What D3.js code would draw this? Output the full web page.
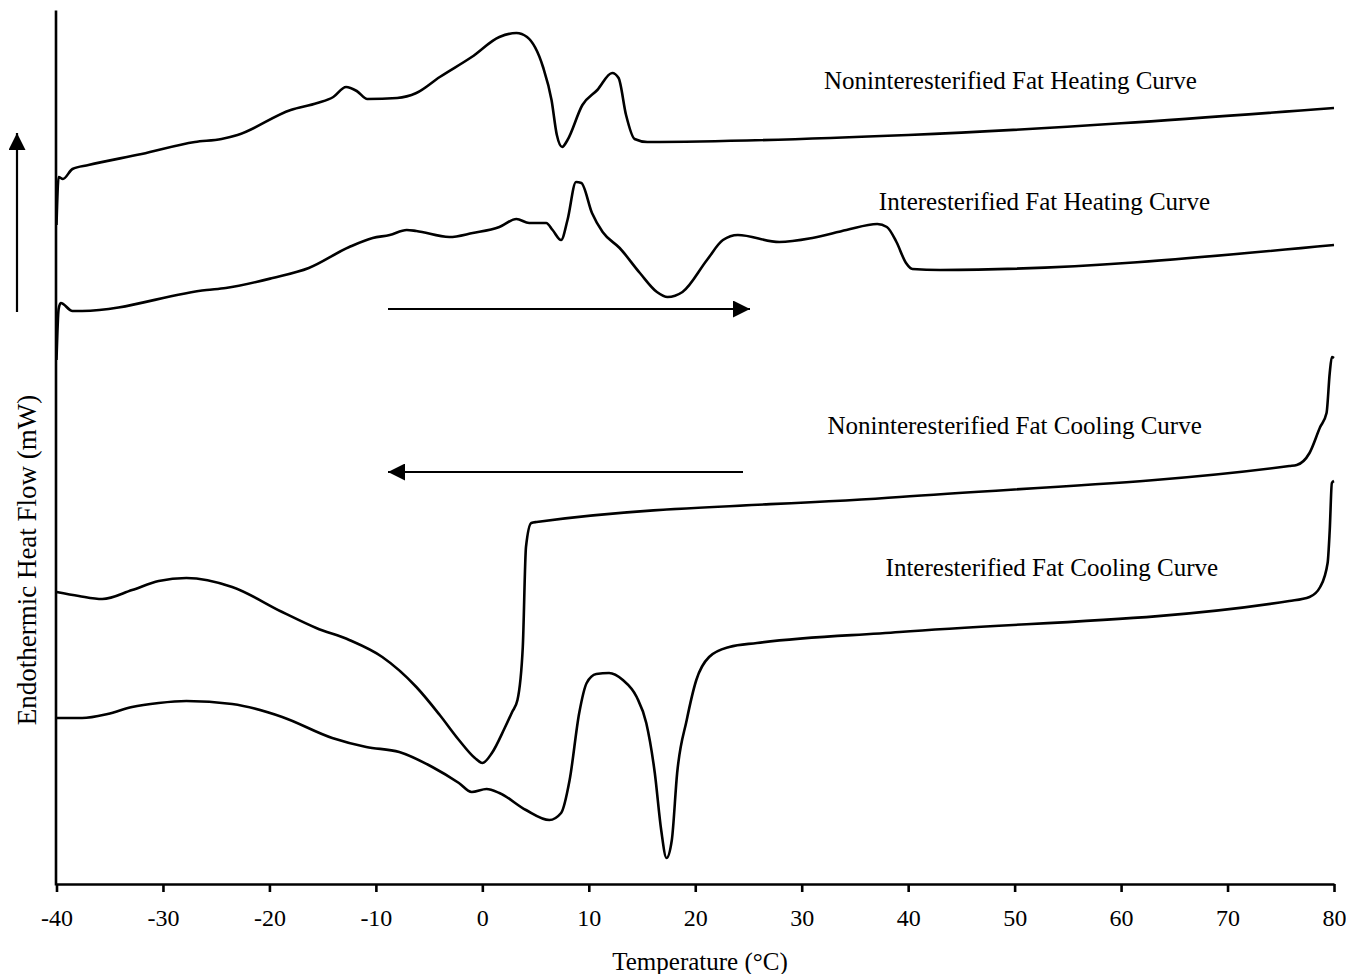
<!DOCTYPE html>
<html lang="en">
<head>
  <meta charset="UTF-8" />
  <title>DSC Heating and Cooling Curves</title>
  <script src="https://d3js.org/d3.v7.min.js"></script>
  <style>
    body {
      margin: 0;
      background: #fff;
    }
    svg {
      display: block;
      font-family: "Liberation Serif", "DejaVu Serif", serif;
    }
    path.curve {
      fill: none;
      stroke: #000;
      stroke-width: 2.6;
      stroke-linejoin: round;
    }
    .axis path, .axis line {
      stroke: #000;
      stroke-width: 2.6;
    }
    .axis text {
      font-family: "Liberation Serif", serif;
      font-size: 24px;
      fill: #000;
    }
    text.label {
      font-size: 25px;
      fill: #000;
    }
  </style>
</head>
<body>

<svg width="1346" height="974"></svg>

<script>
  // temperature (°C), heat flow (arbitrary mW, offset per curve)
  const nonHeating = [
    [-40.0, 66.0], [-39.8, 70.8], [-39.4, 70.6], [-38.5, 71.6], [-37.0, 72.0],
    [-32.0, 73.1], [-27.0, 74.3], [-24.5, 74.6], [-23.0, 75.0], [-18.0, 77.5],
    [-15.5, 78.2], [-14.0, 78.8], [-12.8, 79.8], [-11.8, 79.4], [-10.8, 78.6],
    [-8.0, 78.7], [-6.2, 79.2], [-4.0, 80.8], [-1.0, 82.8], [1.6, 84.8],
    [3.2, 85.2], [4.2, 84.8], [5.7, 81.8], [6.5, 78.5], [7.0, 75.0],
    [7.5, 73.8], [8.0, 74.5], [9.4, 78.0], [10.8, 79.5], [12.2, 81.2],
    [12.8, 80.7], [13.5, 77.0], [14.3, 74.6], [15.5, 74.3], [40.0, 75.0],
    [80.0, 77.7]
  ];

  const interHeating = [
    [-40.0, 52.5], [-39.8, 57.6], [-39.6, 58.2], [-38.5, 57.4], [-37.6, 57.4],
    [-25.9, 59.5], [-24.1, 59.7], [-19.7, 60.7], [-16.3, 61.7], [-12.5, 63.8],
    [-10.3, 64.7], [-8.7, 65.0], [-7.1, 65.5], [-6.2, 65.4], [-3.1, 64.8],
    [-0.9, 65.2], [1.6, 65.8], [3.2, 66.6], [4.4, 66.2], [6.0, 66.2],
    [6.6, 65.5], [7.4, 64.5], [8.0, 66.5], [8.8, 70.3], [9.3, 70.2],
    [10.3, 67.2], [11.3, 65.3], [12.9, 63.7], [14.8, 61.2], [16.4, 59.3],
    [17.4, 58.8], [18.8, 59.3], [21.1, 62.5], [22.6, 64.5], [24.0, 65.0],
    [27.9, 64.3], [31.0, 64.7], [34.2, 65.5], [37.1, 66.1], [38.0, 65.8],
    [38.9, 64.3], [39.8, 62.2], [40.4, 61.6], [43.0, 61.5], [80.0, 64.0]
  ];

  const nonCooling = [
    [-40.0, 29.3], [-37.9, 28.9], [-35.7, 28.6], [-32.9, 29.5], [-30.4, 30.4],
    [-27.8, 30.7], [-23.5, 29.8], [-18.8, 27.3], [-15.6, 25.7], [-12.5, 24.5],
    [-9.4, 22.8], [-6.2, 19.8], [-4.0, 17.0], [-2.2, 14.5], [-0.7, 12.7],
    [0.0, 12.2], [0.9, 13.2], [2.1, 15.7], [2.8, 17.3], [3.3, 18.5],
    [3.8, 23.8], [4.1, 33.8], [4.6, 36.2], [5.1, 36.3], [39.2, 38.8],
    [75.8, 41.9], [76.5, 42.0], [77.7, 43.2], [78.7, 45.8], [79.3, 47.2],
    [79.6, 51.2], [79.8, 52.8], [80.0, 52.7]
  ];

  const interCooling = [
    [-40.0, 16.7], [-37.6, 16.7], [-35.2, 17.1], [-32.9, 17.8], [-30.4, 18.2],
    [-27.8, 18.4], [-23.5, 18.1], [-18.8, 16.8], [-14.1, 14.7], [-10.9, 13.8],
    [-7.8, 13.3], [-4.7, 11.8], [-2.2, 10.2], [-1.0, 9.3], [0.4, 9.6],
    [1.6, 9.2], [4.1, 7.5], [6.3, 6.5], [7.4, 7.2], [8.2, 10.5],
    [9.1, 17.2], [9.8, 20.2], [10.7, 21.1], [11.9, 21.2], [13.2, 20.5],
    [14.5, 18.8], [15.4, 16.2], [16.2, 11.2], [16.8, 5.5], [17.3, 2.7],
    [17.8, 4.5], [18.3, 11.2], [19.2, 16.5], [20.1, 20.5], [21.3, 22.8],
    [23.2, 23.8], [25.8, 24.2], [39.2, 25.3], [75.8, 28.4], [77.7, 28.8],
    [78.7, 29.8], [79.4, 32.2], [79.6, 35.5], [79.8, 40.2], [80.0, 40.4]
  ];

  const curveLabels = [
    { text: "Noninteresterified Fat Heating Curve", t: 49.6, v: 80.5 },
    { text: "Interesterified Fat Heating Curve", t: 52.8, v: 68.4 },
    { text: "Noninteresterified Fat Cooling Curve", t: 50.0, v: 46.0 },
    { text: "Interesterified Fat Cooling Curve", t: 53.5, v: 31.8 }
  ];

  const xTicks = d3.range(-40, 81, 10);

  const svg = d3.select("svg");

  const x = d3.scaleLinear().domain([-40, 80]).range([56.5, 1334]);
  const y = d3.scaleLinear().domain([0, 87.5]).range([885, 10]);

  // axes
  svg.append("g")
    .attr("class", "axis")
    .attr("transform", `translate(0,${y(0) - 1})`)
    .call(d3.axisBottom(x).tickValues(xTicks).tickSize(8).tickSizeOuter(0).tickPadding(17).tickFormat(d => String(d)))
    .call(g => g.selectAll("text").attr("dy", "0.71em"));

  svg.append("g")
    .attr("class", "axis")
    .attr("transform", `translate(${x(-40) - 1},0)`)
    .call(d3.axisLeft(y).tickValues([]).tickSizeOuter(0));

  // curves
  const line = d3.line()
    .x(d => x(d[0]))
    .y(d => y(d[1]))
    .curve(d3.curveMonotoneX);

  [nonHeating, interHeating, nonCooling, interCooling].forEach(data => {
    svg.append("path")
      .attr("class", "curve")
      .attr("d", line(data));
  });

  svg.selectAll("text.label")
    .data(curveLabels)
    .enter().append("text")
    .attr("class", "label")
    .attr("x", d => x(d.t))
    .attr("y", d => y(d.v))
    .attr("dy", "0.35em")
    .attr("text-anchor", "middle")
    .text(d => d.text);

  // direction arrows
  const defs = svg.append("defs");
  defs.append("marker")
    .attr("id", "head")
    .attr("viewBox", "0 -5 10 10")
    .attr("refX", 10)
    .attr("refY", 0)
    .attr("orient", "auto")
    .attr("markerUnits", "userSpaceOnUse")
    .attr("markerWidth", 20)
    .attr("markerHeight", 17)
    .append("path")
    .attr("d", "M0,-5L10,0L0,5Z")
    .attr("fill", "#000");

  const arrows = [
    { x1: 388, y1: 309, x2: 750, y2: 309 },
    { x1: 743, y1: 472, x2: 388, y2: 472 },
    { x1: 17, y1: 312, x2: 17, y2: 133 }
  ];

  svg.selectAll("line.arrow")
    .data(arrows)
    .enter().append("line")
    .attr("class", "arrow")
    .attr("x1", d => d.x1)
    .attr("y1", d => d.y1)
    .attr("x2", d => d.x2)
    .attr("y2", d => d.y2)
    .attr("stroke", "#000")
    .attr("stroke-width", 2.2)
    .attr("marker-end", "url(#head)");

  // axis titles
  svg.append("text")
    .attr("x", 700)
    .attr("y", 970)
    .attr("text-anchor", "middle")
    .attr("font-size", 25)
    .text("Temperature (°C)");

  svg.append("text")
    .attr("transform", "translate(36,560) rotate(-90)")
    .attr("text-anchor", "middle")
    .attr("font-size", 27)
    .text("Endothermic Heat Flow (mW)");
</script>

</body>
</html>
